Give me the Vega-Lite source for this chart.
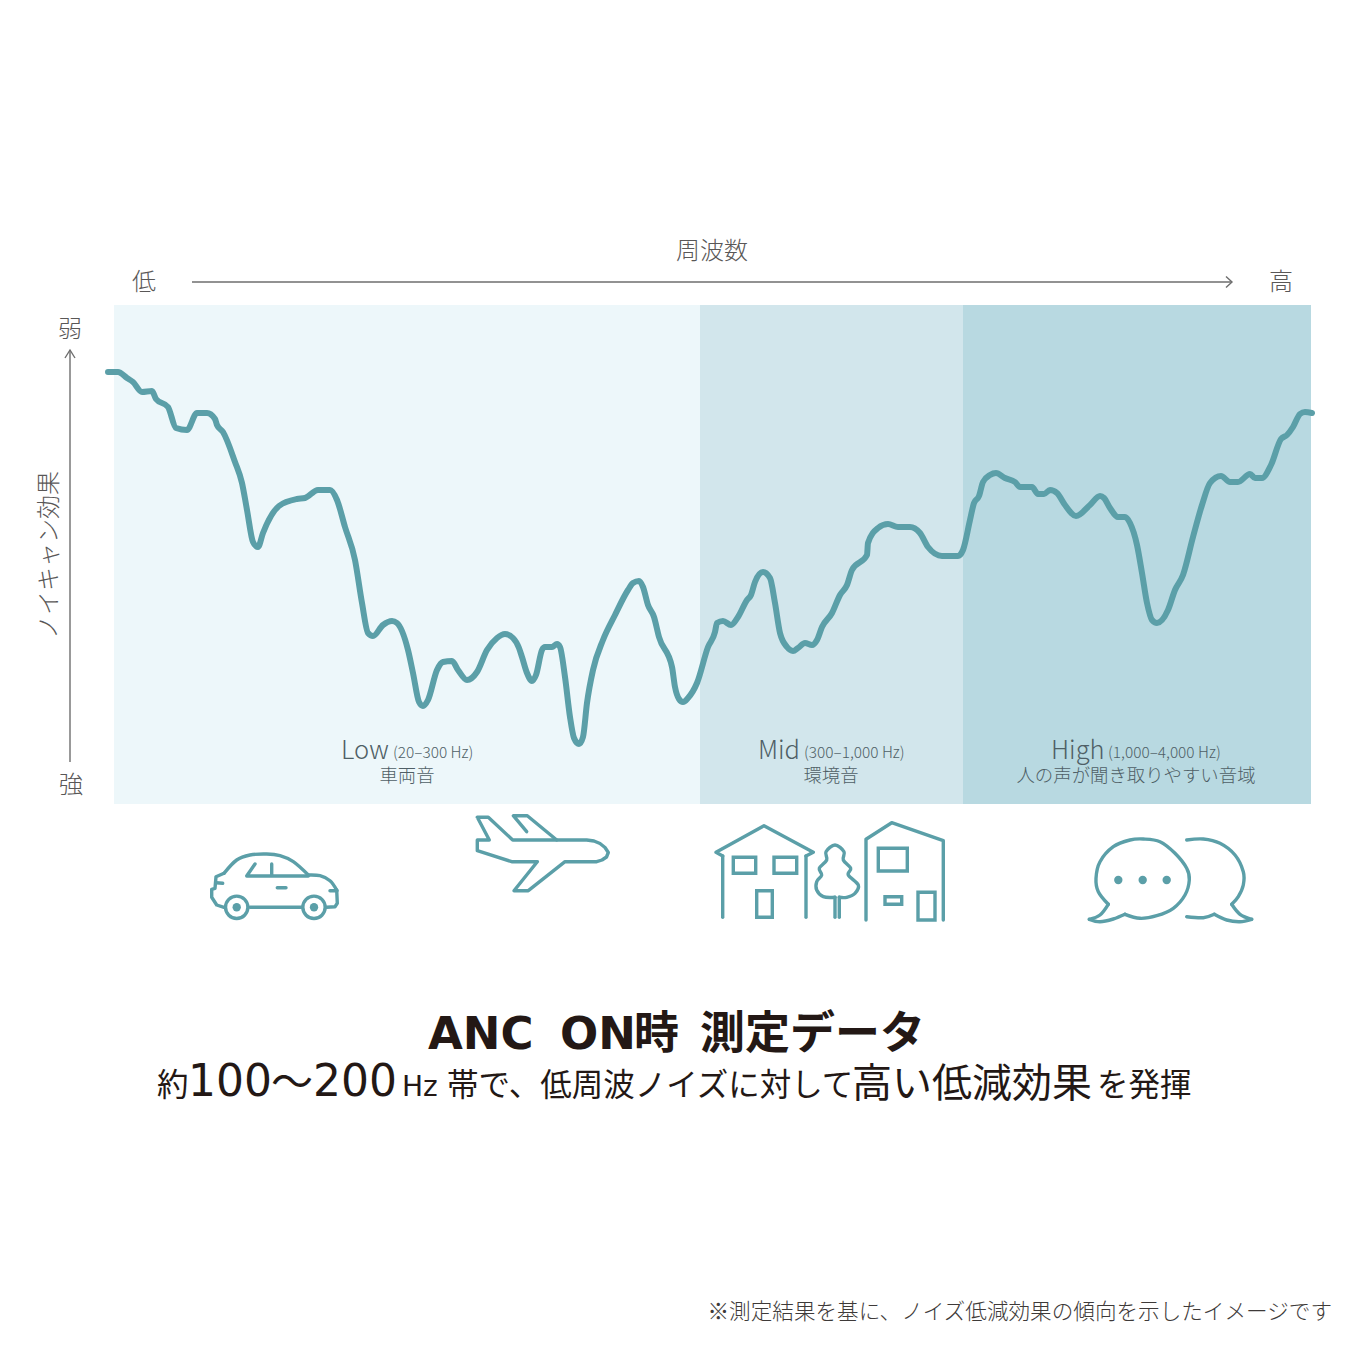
{"$schema":"https://vega.github.io/schema/vega-lite/v6.json","width":1350,"height":1350,"padding":0,"autosize":{"type":"none"},"background":"#ffffff","view":{"stroke":null},
"encoding":{"x":{"field":"x","type":"quantitative","scale":{"domain":[0,1350],"nice":false,"zero":false},"axis":null},"y":{"field":"y","type":"quantitative","scale":{"domain":[1350,0],"nice":false,"zero":false},"axis":null}},
"layer":[
{"data":{"values":[{"band":"Low","x":114,"x2":700,"y":305,"y2":804},{"band":"Mid","x":700,"x2":963,"y":305,"y2":804},{"band":"High","x":963,"x2":1311,"y":305,"y2":804}]},"mark":{"type":"rect"},"encoding":{"x2":{"field":"x2"},"y2":{"field":"y2"},"color":{"field":"band","type":"nominal","legend":null,"scale":{"domain":["Low","Mid","High"],"range":["#edf7fa","#d2e6ec","#b8d9e1"]}}}},
{"data":{"values":[{"x":108,"y":372},{"x":118,"y":372},{"x":127,"y":378},{"x":133,"y":382},{"x":142,"y":392},{"x":152,"y":391},{"x":156,"y":399},{"x":168,"y":407},{"x":176,"y":428},{"x":187,"y":430},{"x":197,"y":413},{"x":207,"y":413},{"x":215,"y":419},{"x":217,"y":425},{"x":223,"y":432},{"x":235,"y":462},{"x":242,"y":483},{"x":247,"y":510},{"x":253,"y":542},{"x":258,"y":547},{"x":263,"y":533},{"x":279,"y":506},{"x":297,"y":499},{"x":305,"y":498},{"x":318,"y":490},{"x":330,"y":490},{"x":337,"y":500},{"x":345,"y":527},{"x":355,"y":560},{"x":362,"y":603},{"x":368,"y":633},{"x":373,"y":636},{"x":383,"y":625},{"x":392,"y":621},{"x":397,"y":623},{"x":408,"y":650},{"x":413,"y":673},{"x":419,"y":702},{"x":423,"y":706},{"x":428,"y":700},{"x":437,"y":670},{"x":443,"y":662},{"x":452,"y":661},{"x":458,"y":670},{"x":467,"y":680},{"x":477,"y":672},{"x":487,"y":650},{"x":497,"y":638},{"x":505,"y":634},{"x":513,"y":638},{"x":519,"y":648},{"x":522,"y":657},{"x":527,"y":673},{"x":532,"y":681},{"x":536,"y":675},{"x":542,"y":650},{"x":545,"y":647},{"x":552,"y":647},{"x":557,"y":644},{"x":560,"y":647},{"x":565,"y":677},{"x":570,"y":717},{"x":574,"y":738},{"x":579,"y":744},{"x":583,"y":737},{"x":587,"y":703},{"x":593,"y":670},{"x":603,"y":640},{"x":615,"y":615},{"x":628,"y":590},{"x":633,"y":583},{"x":639,"y":581},{"x":643,"y":587},{"x":648,"y":605},{"x":654,"y":617},{"x":659,"y":637},{"x":672,"y":667},{"x":675,"y":687},{"x":679,"y":699},{"x":683,"y":702},{"x":688,"y":698},{"x":697,"y":683},{"x":708,"y":647},{"x":715,"y":632},{"x":717,"y":623},{"x":723,"y":621},{"x":731,"y":625},{"x":738,"y":617},{"x":747,"y":600},{"x":751,"y":595},{"x":755,"y":582},{"x":763,"y":572},{"x":770,"y":578},{"x":775,"y":603},{"x":780,"y":633},{"x":787,"y":647},{"x":793,"y":651},{"x":798,"y":648},{"x":805,"y":643},{"x":812,"y":645},{"x":817,"y":640},{"x":822,"y":627},{"x":832,"y":613},{"x":840,"y":595},{"x":847,"y":585},{"x":852,"y":570},{"x":867,"y":555},{"x":868,"y":543},{"x":878,"y":528},{"x":888,"y":524},{"x":898,"y":527},{"x":910,"y":527},{"x":920,"y":533},{"x":928,"y":547},{"x":942,"y":556},{"x":958,"y":556},{"x":963,"y":550},{"x":970,"y":520},{"x":974,"y":503},{"x":979,"y":496},{"x":983,"y":482},{"x":990,"y":475},{"x":996,"y":473},{"x":1005,"y":478},{"x":1015,"y":482},{"x":1020,"y":487},{"x":1032,"y":487},{"x":1038,"y":494},{"x":1044,"y":494},{"x":1050,"y":490},{"x":1057,"y":493},{"x":1065,"y":505},{"x":1076,"y":516},{"x":1090,"y":505},{"x":1100,"y":496},{"x":1104,"y":498},{"x":1110,"y":508},{"x":1118,"y":517},{"x":1125,"y":517},{"x":1130,"y":523},{"x":1137,"y":545},{"x":1142,"y":573},{"x":1147,"y":603},{"x":1152,"y":620},{"x":1157,"y":623},{"x":1168,"y":610},{"x":1175,"y":590},{"x":1183,"y":575},{"x":1193,"y":537},{"x":1202,"y":505},{"x":1210,"y":483},{"x":1221,"y":476},{"x":1230,"y":482},{"x":1238,"y":482},{"x":1250,"y":474},{"x":1255,"y":478},{"x":1262,"y":478},{"x":1271,"y":465},{"x":1281,"y":439},{"x":1287,"y":435},{"x":1293,"y":427},{"x":1300,"y":414},{"x":1305,"y":412},{"x":1312,"y":413}]},"mark":{"type":"line","interpolate":"monotone","stroke":"#5b9fa8","strokeWidth":6,"strokeCap":"round","strokeJoin":"round"}},
{"data":{"values":[{"g":"h","x":192,"y":282},{"g":"h","x":1232,"y":282},{"g":"hh","x":1226,"y":276.5},{"g":"hh","x":1232,"y":282},{"g":"hh","x":1226,"y":287.5},{"g":"v","x":70,"y":762},{"g":"v","x":70,"y":350},{"g":"vh","x":65,"y":358},{"g":"vh","x":70,"y":350},{"g":"vh","x":75,"y":358}]},"mark":{"type":"line","stroke":"#6e6e6e","strokeWidth":1.4},"encoding":{"detail":{"field":"g"},"order":{"value":null}}},
{"data":{"values":[{"g":"carbody","x":224,"y":907.3},{"g":"carbody","x":216.7,"y":905},{"g":"carbody","x":211.7,"y":897.3},{"g":"carbody","x":211.7,"y":889.3},{"g":"carbody","x":215,"y":888.3},{"g":"carbody","x":216,"y":876.7},{"g":"carbody","x":224,"y":873.3},{"g":"carrear","x":336.7,"y":890},{"g":"carrear","x":337.3,"y":903.3},{"g":"carrear","x":335,"y":906.7},{"g":"carrear","x":326.7,"y":907.3},{"g":"carb","x":250,"y":907.3},{"g":"carb","x":301.7,"y":907.3},{"g":"carw","x":308.3,"y":876},{"g":"carw","x":246.7,"y":876},{"g":"carw","x":255,"y":864},{"g":"carp","x":271.7,"y":864},{"g":"carp","x":271.7,"y":875},{"g":"carh","x":277.3,"y":887.7},{"g":"carh","x":286,"y":887.7},{"g":"cart1","x":216,"y":882.7},{"g":"cart1","x":222.7,"y":883.3},{"g":"cart2","x":330,"y":890.7},{"g":"cart2","x":337,"y":890.7},{"g":"plane","x":477.3,"y":817.3},{"g":"plane","x":488.3,"y":817.3},{"g":"plane","x":512.7,"y":840},{"g":"plane","x":586.7,"y":840},{"g":"plane","x":594,"y":841},{"g":"plane","x":600,"y":843.5},{"g":"plane","x":605,"y":847.5},{"g":"plane","x":608.3,"y":852.5},{"g":"plane","x":606.5,"y":857},{"g":"plane","x":602,"y":860},{"g":"plane","x":596.7,"y":861.7},{"g":"plane","x":565,"y":861.7},{"g":"plane","x":528.3,"y":890.7},{"g":"plane","x":514,"y":890.7},{"g":"plane","x":537.3,"y":861.7},{"g":"plane","x":511.7,"y":861.7},{"g":"plane","x":477.3,"y":850.7},{"g":"plane","x":477.3,"y":840},{"g":"plane","x":489.3,"y":840},{"g":"plane","x":477.3,"y":817.3},{"g":"planet","x":526.7,"y":831.7},{"g":"planet","x":513.3,"y":815.7},{"g":"planet","x":527.3,"y":815.7},{"g":"planet","x":556.7,"y":840},{"g":"h1r","x":722.7,"y":856},{"g":"h1r","x":716,"y":852.3},{"g":"h1r","x":764,"y":825.7},{"g":"h1r","x":813.3,"y":852.3},{"g":"h1r","x":806,"y":856},{"g":"h1l","x":722.7,"y":856},{"g":"h1l","x":722.7,"y":917.3},{"g":"h1e","x":806,"y":856},{"g":"h1e","x":806,"y":917.3},{"g":"h2","x":866,"y":920},{"g":"h2","x":866,"y":839.3},{"g":"h2","x":891.7,"y":822.7},{"g":"h2","x":943.3,"y":840.7},{"g":"h2","x":943.3,"y":920},{"g":"tl","x":835,"y":917.3},{"g":"tl","x":835,"y":897.3},{"g":"tr","x":839.3,"y":897.3},{"g":"tr","x":839.3,"y":917.3}]},"mark":{"type":"line","stroke":"#5b9fa8","strokeWidth":3.4,"strokeCap":"round","strokeJoin":"round"},"encoding":{"detail":{"field":"g"},"order":{"value":null}}},
{"data":{"values":[{"g":"roof","x":224,"y":873.3},{"g":"roof","x":236.7,"y":860},{"g":"roof","x":250,"y":855},{"g":"roof","x":266.7,"y":854},{"g":"roof","x":280,"y":855.7},{"g":"roof","x":293.3,"y":861.7},{"g":"roof","x":308.3,"y":875},{"g":"hood","x":308.3,"y":875},{"g":"hood","x":320,"y":875.7},{"g":"hood","x":330,"y":880.7},{"g":"hood","x":336.7,"y":890},{"g":"crown","x":835,"y":897.3},{"g":"crown","x":823.3,"y":896.7},{"g":"crown","x":816.7,"y":890},{"g":"crown","x":816.7,"y":881.7},{"g":"crown","x":821.7,"y":875},{"g":"crown","x":819.3,"y":868.3},{"g":"crown","x":826.7,"y":860},{"g":"crown","x":826,"y":851.7},{"g":"crown","x":835,"y":845},{"g":"crown","x":844,"y":851.7},{"g":"crown","x":843.3,"y":860},{"g":"crown","x":850.7,"y":868.3},{"g":"crown","x":848.3,"y":875},{"g":"crown","x":858.3,"y":885},{"g":"crown","x":855,"y":893.3},{"g":"crown","x":846.7,"y":897.3},{"g":"crown","x":839.3,"y":897.3},{"g":"b1","x":1108.3,"y":904.3},{"g":"b1","x":1098.3,"y":891.7},{"g":"b1","x":1096,"y":878.3},{"g":"b1","x":1100,"y":861.7},{"g":"b1","x":1113.3,"y":846.7},{"g":"b1","x":1130,"y":840},{"g":"b1","x":1143.3,"y":839},{"g":"b1","x":1160,"y":841.7},{"g":"b1","x":1175,"y":853.3},{"g":"b1","x":1186.7,"y":868.3},{"g":"b1","x":1189.3,"y":880},{"g":"b1","x":1185,"y":895},{"g":"b1","x":1173.3,"y":908.3},{"g":"b1","x":1156.7,"y":915.7},{"g":"b1","x":1140,"y":918.3},{"g":"b1","x":1125,"y":914.3},{"g":"b1t","x":1125,"y":914.3},{"g":"b1t","x":1113.3,"y":919},{"g":"b1t","x":1100,"y":921.7},{"g":"b1t","x":1089.3,"y":919.3},{"g":"b1u","x":1089.3,"y":919.3},{"g":"b1u","x":1100,"y":915},{"g":"b1u","x":1108.3,"y":904.3},{"g":"b2","x":1186.7,"y":840},{"g":"b2","x":1203.3,"y":839},{"g":"b2","x":1220,"y":843.3},{"g":"b2","x":1235,"y":855},{"g":"b2","x":1243.3,"y":871.7},{"g":"b2","x":1243.3,"y":885},{"g":"b2","x":1238.3,"y":896.7},{"g":"b2","x":1231.7,"y":904.3},{"g":"b2t","x":1231.7,"y":904.3},{"g":"b2t","x":1240,"y":914.3},{"g":"b2t","x":1251.7,"y":919.3},{"g":"b2u","x":1251.7,"y":919.3},{"g":"b2u","x":1240,"y":921.7},{"g":"b2u","x":1226.7,"y":920},{"g":"b2u","x":1214.3,"y":914.3},{"g":"b2v","x":1214.3,"y":914.3},{"g":"b2v","x":1203.3,"y":917.7},{"g":"b2v","x":1186.7,"y":916.7}]},"mark":{"type":"line","interpolate":"cardinal","stroke":"#5b9fa8","strokeWidth":3.4,"strokeCap":"round","strokeJoin":"round"},"encoding":{"detail":{"field":"g"},"order":{"value":null}}},
{"data":{"values":[{"x":733.3,"x2":755.7,"y":857.3,"y2":873.3},{"x":774,"x2":796.7,"y":857.3,"y2":873.3},{"x":756.7,"x2":772.3,"y":890.7,"y2":917.3},{"x":878.3,"x2":907.3,"y":848.3,"y2":871},{"x":885,"x2":901.7,"y":896.7,"y2":904.3},{"x":918,"x2":935,"y":892.3,"y2":920}]},"mark":{"type":"rect","fill":null,"stroke":"#5b9fa8","strokeWidth":3.4},"encoding":{"x2":{"field":"x2"},"y2":{"field":"y2"}}},
{"data":{"values":[{"x":236.7,"y":907.3},{"x":314,"y":907.3}]},"mark":{"type":"point","shape":"circle","filled":true,"fill":"#ffffff","stroke":"#5b9fa8","strokeWidth":3.4,"size":500,"opacity":1}},
{"data":{"values":[{"x":236.7,"y":907.3},{"x":314,"y":907.3},{"x":1118.3,"y":880},{"x":1142.7,"y":880},{"x":1166.7,"y":880}]},"mark":{"type":"point","shape":"circle","filled":true,"fill":"#5b9fa8","size":70,"opacity":1}},
{"data":{"values":[{"t":"周波数","x":712,"y":259},{"t":"低","x":144,"y":290},{"t":"高","x":1281,"y":290},{"t":"弱","x":70,"y":337},{"t":"強","x":71,"y":793}]},"mark":{"type":"text","font":"Noto Sans CJK JP","fontSize":24,"fontWeight":300,"align":"center","baseline":"alphabetic","fill":"#595757"},"encoding":{"text":{"field":"t"}}},
{"data":{"values":[{"t":"ノイキャン効果","x":50,"y":555}]},"mark":{"type":"text","font":"Noto Sans CJK JP","fontSize":24,"fontWeight":300,"align":"center","baseline":"middle","angle":270,"fill":"#595757"},"encoding":{"text":{"field":"t"}}},
{"data":{"values":[{"t":"Low","x":341,"y":759},{"t":"Mid","x":758,"y":759},{"t":"High","x":1051,"y":759}]},"mark":{"type":"text","font":"Noto Sans CJK JP","fontSize":25.5,"fontWeight":300,"align":"left","baseline":"alphabetic","fill":"#4f5f66"},"encoding":{"text":{"field":"t"}}},
{"data":{"values":[{"t":"(20–300 Hz)","x":393,"y":758},{"t":"(300–1,000 Hz)","x":804,"y":758},{"t":"(1,000–4,000 Hz)","x":1108,"y":758}]},"mark":{"type":"text","font":"Noto Sans CJK JP","fontSize":15.4,"fontWeight":300,"align":"left","baseline":"alphabetic","fill":"#4f5f66"},"encoding":{"text":{"field":"t"}}},
{"data":{"values":[{"t":"車両音","x":407,"y":782},{"t":"環境音","x":831,"y":782},{"t":"人の声が聞き取りやすい音域","x":1136,"y":782}]},"mark":{"type":"text","font":"Noto Sans CJK JP","fontSize":18.4,"fontWeight":300,"align":"center","baseline":"alphabetic","fill":"#4f5f66"},"encoding":{"text":{"field":"t"}}},
{"data":{"values":[{"t":"ANC","x":428,"y":1049},{"t":"ON","x":560,"y":1049}]},"mark":{"type":"text","font":"DejaVu Sans","fontSize":45,"fontWeight":"bold","align":"left","baseline":"alphabetic","fill":"#231815"},"encoding":{"text":{"field":"t"}}},
{"data":{"values":[{"t":"時","x":634,"y":1049},{"t":"測定データ","x":700,"y":1049}]},"mark":{"type":"text","font":"Noto Sans CJK JP","fontSize":45,"fontWeight":"bold","align":"left","baseline":"alphabetic","fill":"#231815"},"encoding":{"text":{"field":"t"}}},
{"data":{"values":[{"t":"100","x":188,"y":1096},{"t":"200","x":313,"y":1096}]},"mark":{"type":"text","font":"DejaVu Sans","fontSize":44,"align":"left","baseline":"alphabetic","fill":"#231815"},"encoding":{"text":{"field":"t"}}},
{"data":{"values":[{"t":"〜","x":271,"y":1097}]},"mark":{"type":"text","font":"Noto Sans CJK JP","fontSize":42,"align":"left","baseline":"alphabetic","fill":"#231815"},"encoding":{"text":{"field":"t"}}},
{"data":{"values":[{"t":"Hz","x":402,"y":1096}]},"mark":{"type":"text","font":"DejaVu Sans","fontSize":28,"align":"left","baseline":"alphabetic","fill":"#231815"},"encoding":{"text":{"field":"t"}}},
{"data":{"values":[{"t":"約","x":157,"y":1096},{"t":"帯で、低周波ノイズに対して","x":447,"y":1096},{"t":"を発揮","x":1097,"y":1096}]},"mark":{"type":"text","font":"Noto Sans CJK JP","fontSize":31.5,"align":"left","baseline":"alphabetic","fill":"#231815"},"encoding":{"text":{"field":"t"}}},
{"data":{"values":[{"t":"高い低減効果","x":852,"y":1097}]},"mark":{"type":"text","font":"Noto Sans CJK JP","fontSize":40,"align":"left","baseline":"alphabetic","fill":"#231815"},"encoding":{"text":{"field":"t"}}},
{"data":{"values":[{"t":"※測定結果を基に、ノイズ低減効果の傾向を示したイメージです","x":1332,"y":1319}]},"mark":{"type":"text","font":"Noto Sans CJK JP","fontSize":21.6,"fontWeight":300,"align":"right","baseline":"alphabetic","fill":"#3e3a39"},"encoding":{"text":{"field":"t"}}}
]}
